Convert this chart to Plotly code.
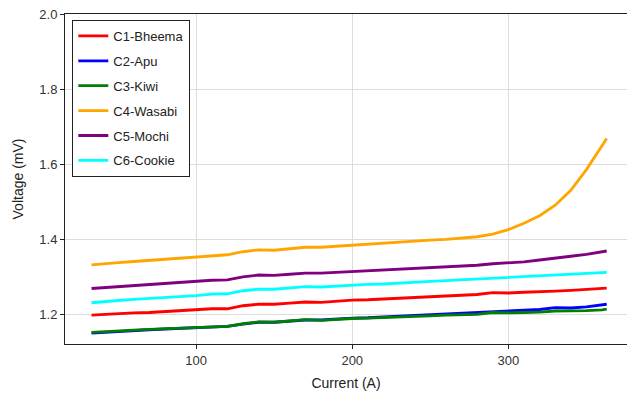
import plotly.graph_objects as go

current = [33, 40, 50, 60, 70, 80, 90, 100, 110, 120, 130, 140, 150, 160, 170, 180, 190, 200,
           210, 220, 230, 240, 250, 260, 270, 280, 290, 300, 310, 320, 330, 340, 350, 360, 363]

c1_bheema = [1.197, 1.199, 1.201, 1.203, 1.204, 1.207, 1.208, 1.211, 1.214, 1.214, 1.222, 1.226,
             1.226, 1.229, 1.232, 1.231, 1.234, 1.237, 1.238, 1.240, 1.243, 1.245, 1.246, 1.248,
             1.250, 1.252, 1.257, 1.256, 1.258, 1.259, 1.261, 1.263, 1.265, 1.267, 1.269]
c2_apu = [1.149, 1.151, 1.154, 1.156, 1.158, 1.160, 1.162, 1.164, 1.166, 1.167, 1.173, 1.178,
          1.178, 1.181, 1.184, 1.184, 1.187, 1.189, 1.190, 1.192, 1.194, 1.196, 1.199, 1.200,
          1.202, 1.204, 1.207, 1.208, 1.210, 1.212, 1.217, 1.216, 1.219, 1.224, 1.226]
c3_kiwi = [1.151, 1.153, 1.155, 1.157, 1.159, 1.161, 1.162, 1.164, 1.167, 1.167, 1.174, 1.179,
           1.178, 1.181, 1.185, 1.183, 1.186, 1.188, 1.189, 1.190, 1.192, 1.193, 1.195, 1.197,
           1.198, 1.199, 1.204, 1.203, 1.204, 1.205, 1.208, 1.208, 1.209, 1.211, 1.213]
c4_wasabi = [1.331, 1.334, 1.337, 1.340, 1.343, 1.346, 1.349, 1.352, 1.356, 1.358, 1.366, 1.371,
             1.370, 1.374, 1.378, 1.378, 1.381, 1.384, 1.386, 1.389, 1.392, 1.395, 1.397, 1.399,
             1.402, 1.406, 1.413, 1.425, 1.442, 1.462, 1.490, 1.530, 1.585, 1.648, 1.668]
c5_mochi = [1.268, 1.270, 1.273, 1.276, 1.278, 1.281, 1.283, 1.286, 1.290, 1.291, 1.299, 1.304,
            1.303, 1.306, 1.309, 1.309, 1.311, 1.314, 1.315, 1.317, 1.320, 1.322, 1.324, 1.326,
            1.328, 1.330, 1.334, 1.336, 1.339, 1.344, 1.350, 1.354, 1.359, 1.365, 1.368]
c6_cookie = [1.230, 1.233, 1.236, 1.239, 1.241, 1.244, 1.246, 1.249, 1.253, 1.254, 1.262, 1.266,
             1.266, 1.269, 1.273, 1.272, 1.275, 1.277, 1.279, 1.280, 1.283, 1.285, 1.287, 1.289,
             1.291, 1.293, 1.297, 1.298, 1.300, 1.301, 1.303, 1.305, 1.307, 1.309, 1.311]

names = ["C1-Bheema", "C2-Apu", "C3-Kiwi", "C4-Wasabi", "C5-Mochi", "C6-Cookie"]
series = [c1_bheema, c2_apu, c3_kiwi, c4_wasabi, c5_mochi, c6_cookie]
colors = ["#ff0000", "#0000ff", "#008000", "#ffa500", "#800080", "#00ffff"]

fig = go.Figure()
for i, (n, s, c) in enumerate(zip(names, series, colors)):
    fig.add_trace(go.Scatter(x=current, y=s, name=n, mode="lines",
                             line=dict(color=c, width=2.8), legendgroup=f"g{i}"))

font = "Liberation Sans, Arial, sans-serif"
fig.update_layout(
    width=627, height=396,
    margin=dict(l=65, r=0, t=14, b=52),
    paper_bgcolor="white", plot_bgcolor="white",
    font=dict(family=font, size=13, color="#333333"),
    showlegend=True,
    legend=dict(x=0.013, y=0.982, xanchor="left", yanchor="top",
                bgcolor="white", bordercolor="#222222", borderwidth=1,
                font=dict(size=13, color="#222222"), tracegroupgap=5,
                itemwidth=30),
    xaxis=dict(range=[16, 376], tickvals=[100, 200, 300],
               showgrid=True, gridcolor="#dddddd", gridwidth=1,
               showline=True, linecolor="#222222", linewidth=1, mirror=True,
               ticks="outside", ticklen=4, tickcolor="#222222",
               title=dict(text="Current (A)", font=dict(size=14, color="#222222"), standoff=11),
               zeroline=False),
    yaxis=dict(range=[1.12, 2.0], tickvals=[1.2, 1.4, 1.6, 1.8, 2.0],
               ticktext=["1.2", "1.4", "1.6", "1.8", "2.0"],
               showgrid=True, gridcolor="#dddddd", gridwidth=1,
               showline=True, linecolor="#222222", linewidth=1,
               ticks="outside", ticklen=4, tickcolor="#222222",
               title=dict(text="Voltage (mV)", font=dict(size=14, color="#222222"), standoff=12),
               zeroline=False),
)

fig.write_html("out.html")
